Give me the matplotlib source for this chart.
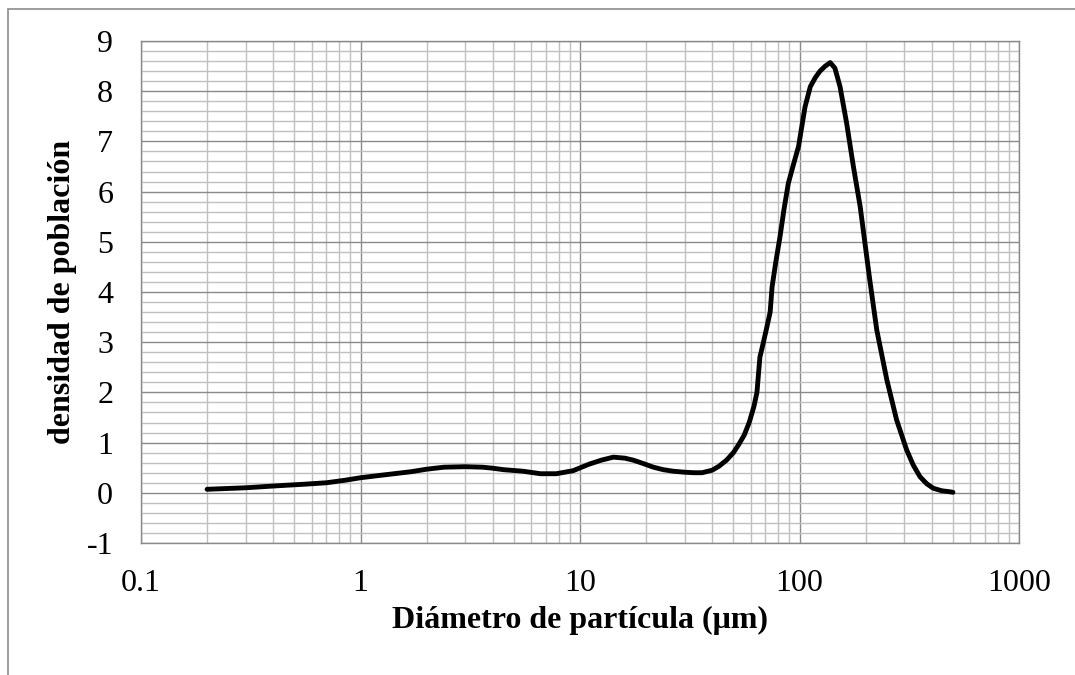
import numpy as np
import matplotlib
matplotlib.use("Agg")
import matplotlib.pyplot as plt
from matplotlib.ticker import FixedLocator, NullFormatter, MultipleLocator
from matplotlib.patches import Rectangle

# data
diametro = [0.2, 0.3, 0.4, 0.55, 0.7, 0.85, 1.0, 1.3, 1.7, 2.0, 2.4, 3.0, 3.6, 4.0,
            4.5, 5.5, 6.6, 7.8, 9.3, 11, 12.5, 14.2, 16, 17.5, 19.5, 21.6, 24, 26.6,
            30, 33, 36, 40, 43, 46.5, 50, 53, 56, 59, 62, 64, 66, 68.5, 71, 73.5,
            75, 78, 81.5, 85, 89, 94, 99, 106, 112, 118, 124, 131, 138, 145, 153,
            164, 176, 189, 209, 225, 250, 277, 308, 330, 354, 380, 407, 445, 485, 500]
densidad = [0.07, 0.10, 0.135, 0.17, 0.20, 0.25, 0.30, 0.36, 0.42, 0.47, 0.51, 0.52,
            0.51, 0.49, 0.46, 0.43, 0.38, 0.38, 0.44, 0.57, 0.65, 0.71, 0.69, 0.65,
            0.58, 0.51, 0.46, 0.43, 0.41, 0.40, 0.40, 0.45, 0.53, 0.65, 0.80, 0.97,
            1.15, 1.40, 1.72, 2.00, 2.70, 3.00, 3.30, 3.60, 4.10, 4.60, 5.10, 5.65,
            6.17, 6.55, 6.90, 7.69, 8.09, 8.27, 8.40, 8.50, 8.57, 8.46, 8.09, 7.36,
            6.50, 5.70, 4.24, 3.24, 2.25, 1.45, 0.85, 0.55, 0.32, 0.18, 0.09, 0.04,
            0.02, 0.01]

x_ticks = [0.1, 1, 10, 100, 1000]
x_labels = ["0.1", "1", "10", "100", "1000"]
y_ticks = list(range(-1, 10))

plt.rcParams["font.family"] = ["Liberation Serif", "DejaVu Serif"]
plt.rcParams["axes.unicode_minus"] = False

fig = plt.figure(figsize=(10.75, 6.75), dpi=100)

# outer chart frame (cut off on right and bottom as in the reference)
fig.patches.append(Rectangle((8 / 1075, -0.1), 1.2, 1.1 - 9 / 675,
                             transform=fig.transFigure, fill=False,
                             edgecolor="#8c8c8c", linewidth=1.2))

ax = fig.add_axes([141 / 1075, 132 / 675, 878 / 1075, 502 / 675])

ax.set_xscale("log")
ax.set_xlim(0.1, 1000)
ax.set_ylim(-1, 9)

# minor grid
minor_x = [m * 10.0 ** e for e in range(-1, 3) for m in range(2, 10)]
ax.xaxis.set_minor_locator(FixedLocator(minor_x))
ax.xaxis.set_minor_formatter(NullFormatter())
ax.yaxis.set_minor_locator(MultipleLocator(0.2))
ax.grid(which="minor", color="#c0c0c0", linewidth=1.0)
ax.grid(which="major", color="#8a8a8a", linewidth=1.0)
ax.set_axisbelow(True)

ax.set_xticks(x_ticks)
ax.set_xticklabels(x_labels)
ax.set_yticks(y_ticks)
ax.tick_params(which="both", length=0)
ax.tick_params(axis="x", pad=19, labelsize=23)
ax.tick_params(axis="y", pad=20, labelsize=23)

for s in ax.spines.values():
    s.set_color("#8a8a8a")
    s.set_linewidth(1.0)

ax.plot(diametro, densidad, color="black", linewidth=3.5, solid_capstyle="round")

ax.set_xlabel("Diámetro de partícula (μm)", fontsize=23, fontweight="bold")
ax.set_ylabel("densidad de población", fontsize=23, fontweight="bold")
ax.xaxis.set_label_coords(0.5, -0.125)
ax.yaxis.set_label_coords(-0.073, 0.5)

fig.savefig("out.png", dpi=100)
